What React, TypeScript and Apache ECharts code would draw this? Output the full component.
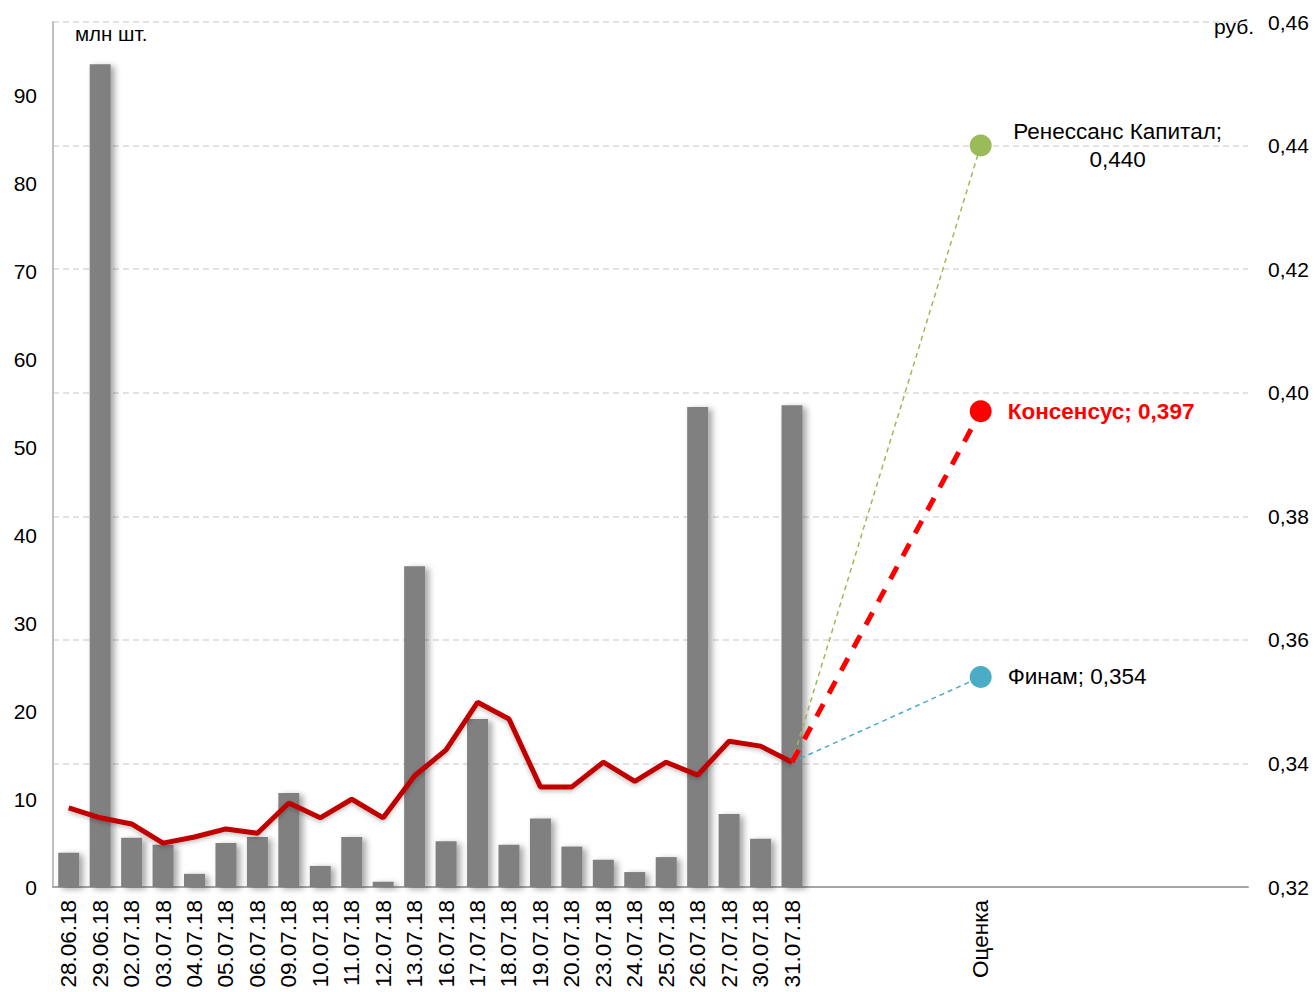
import React, { useEffect, useRef } from "react";
import * as echarts from "echarts";

const dates = [
  "28.06.18", "29.06.18", "02.07.18", "03.07.18", "04.07.18", "05.07.18",
  "06.07.18", "09.07.18", "10.07.18", "11.07.18", "12.07.18", "13.07.18",
  "16.07.18", "17.07.18", "18.07.18", "19.07.18", "20.07.18", "23.07.18",
  "24.07.18", "25.07.18", "26.07.18", "27.07.18", "30.07.18", "31.07.18",
];
const estimateLabel = "Оценка";
const gapBefore = 5;
const gapAfter = 8;

const volumes = [
  3.9, 93.6, 5.6, 4.8, 1.5, 5.0, 5.7, 10.7, 2.4, 5.7, 0.6, 36.5,
  5.2, 19.1, 4.8, 7.8, 4.6, 3.1, 1.7, 3.4, 54.6, 8.3, 5.5, 54.8,
];
const prices = [
  0.3328, 0.3312, 0.3302, 0.3271, 0.3281, 0.3294, 0.3287, 0.3336,
  0.3312, 0.3342, 0.3312, 0.338, 0.3422, 0.3499, 0.3472, 0.3362,
  0.3362, 0.3402, 0.3371, 0.3402, 0.3381, 0.3436, 0.3428, 0.3402,
];
const forecasts = [
  { name: "Ренессанс Капитал", value: 0.44, color: "#9BBB59" },
  { name: "Консенсус", value: 0.397, color: "#FF0000" },
  { name: "Финам", value: 0.354, color: "#4BACC6" },
];
const leftTicks = [0, 10, 20, 30, 40, 50, 60, 70, 80, 90];

const FONT = "Liberation Sans, Arial, sans-serif";

export default function App() {
  const ref = useRef<HTMLDivElement>(null);
  useEffect(() => {
    if (!ref.current) return;
    document.body.style.margin = "0";
    document.body.style.overflow = "hidden";
    const chart = echarts.init(ref.current, null, { renderer: "svg" });
    const categories: string[] = [...dates];
    for (let i = 0; i < gapBefore; i++) categories.push("");
    const estIdx = categories.length;
    categories.push(estimateLabel);
    for (let i = 0; i < gapAfter; i++) categories.push("");
    const lastIdx = dates.length - 1;
    const lastPrice = prices[lastIdx];
    const fmt = (v: number) => v.toFixed(3).replace(".", ",");

    const barData = categories.map((_, i) => (i < volumes.length ? volumes[i] : null));
    const lineData = categories.map((_, i) => (i < prices.length ? prices[i] : null));

    const fcSeries = forecasts.map((f, k) => {
      const data = categories.map((_, i) => {
        if (i === lastIdx) return { value: lastPrice, symbolSize: 0, label: { show: false } };
        if (i === estIdx) return { value: f.value };
        return null;
      });
      const isCons = k === 1;
      let label: any;
      if (k === 0) {
        label = {
          show: true,
          position: "right",
          distance: 126,
          align: "center",
          formatter: () => f.name + ";\n" + fmt(f.value),
          fontSize: 22.5,
          lineHeight: 28,
          color: "#000",
          fontFamily: FONT,
        };
      } else {
        label = {
          show: true,
          position: "right",
          distance: 16,
          formatter: () => f.name + "; " + fmt(f.value),
          fontSize: isCons ? 22.5 : 22.5,
          fontWeight: isCons ? "bold" : "normal",
          color: isCons ? "#FF0000" : "#000",
          fontFamily: FONT,
        };
      }
      return {
        type: "line",
        yAxisIndex: 1,
        data,
        connectNulls: true,
        symbol: "circle",
        symbolSize: 22,
        z: isCons ? 6 : 5,
        itemStyle: { color: f.color },
        lineStyle: {
          color: f.color,
          width: isCons ? 5 : 1.5,
          type: isCons ? [14, 12] : [5, 4],
        },
        label,
      };
    });

    chart.setOption({
      animation: false,
      backgroundColor: "#fff",
      grid: { left: 53, right: 66, top: 22, bottom: 105, containLabel: false },
      xAxis: {
        type: "category",
        data: categories,
        boundaryGap: true,
        axisLine: { show: true, lineStyle: { color: "#A6A6A6", width: 2 } },
        axisTick: { show: false },
        axisLabel: {
          interval: 0,
          rotate: 90,
          margin: 13,
          fontSize: 22.5,
          color: "#000",
          fontFamily: FONT,
        },
      },
      yAxis: [
        {
          type: "value",
          min: 0,
          max: 98.4,
          interval: 10,
          position: "left",
          axisLine: { show: true, lineStyle: { color: "#BFBFBF", width: 2 } },
          axisTick: { show: false },
          splitLine: { show: false },
          axisLabel: {
            margin: 16,
            fontSize: 21,
            color: "#000",
            fontFamily: FONT,
            showMaxLabel: false,
            formatter: (v: number) => (leftTicks.includes(Math.round(v)) && Math.abs(v - Math.round(v)) < 1e-6 ? String(Math.round(v)) : ""),
          },
        },
        {
          type: "value",
          min: 0.32,
          max: 0.46,
          interval: 0.02,
          position: "right",
          axisLine: { show: false },
          axisTick: { show: false },
          splitLine: { show: true, lineStyle: { color: "#D9D9D9", type: [6, 4], width: 1.5 } },
          axisLabel: {
            margin: 20,
            fontSize: 21,
            color: "#000",
            fontFamily: FONT,
            formatter: (v: number) => v.toFixed(2).replace(".", ","),
          },
        },
      ],
      graphic: [
        { type: "text", left: 75, top: 23, style: { text: "млн шт.", fontSize: 20.5, fill: "#000", fontFamily: FONT } },
        { type: "text", left: 1214, top: 16, style: { text: "руб.", fontSize: 21, fill: "#000", fontFamily: FONT } },
      ],
      series: [
        {
          type: "bar",
          yAxisIndex: 0,
          data: barData,
          barWidth: 21,
          itemStyle: {
            color: "#808080",
            shadowColor: "rgba(0,0,0,0.35)",
            shadowBlur: 6,
            shadowOffsetX: 4,
            shadowOffsetY: 2,
          },
          z: 2,
        },
        {
          type: "line",
          yAxisIndex: 1,
          data: lineData,
          symbol: "none",
          lineStyle: { color: "#C00000", width: 5, shadowColor: "rgba(0,0,0,0.25)", shadowBlur: 4, shadowOffsetY: 2 },
          z: 4,
        },
        ...fcSeries,
      ],
    });
    return () => chart.dispose();
  }, []);
  return <div ref={ref} style={{ position: "fixed", left: 0, top: 0, width: 1314, height: 992 }} />;
}
